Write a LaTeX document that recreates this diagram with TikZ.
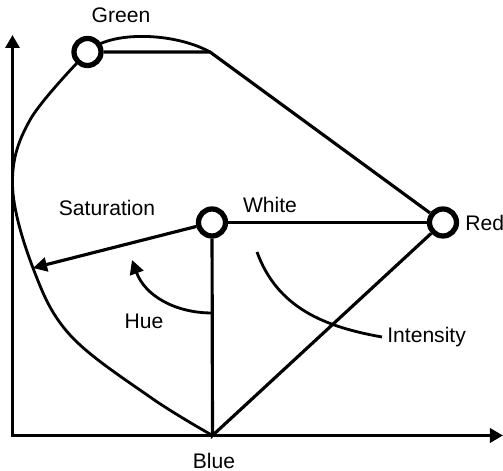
\documentclass[tikz,border=0pt]{standalone}
\usepackage{fontspec}
\setmainfont{Liberation Sans}
\usetikzlibrary{arrows.meta}
\begin{document}
\begin{tikzpicture}[
    lbl/.style={font=\fontsize{12}{14}\selectfont, inner sep=0pt},
    dot/.style={circle, draw, line width=3pt, fill=white, minimum size=0.54cm, inner sep=0pt},
    edge/.style={line width=1.8pt},
    rim/.style={line width=1.6pt},
    tip/.style={-{Triangle[length=0.28cm,width=0.28cm]}}
]
\useasboundingbox (0,0) rectangle (10.06,9.42);
% Axes
\coordinate (yend) at (0.25,8.72); \coordinate (xend) at (10.06,0.71);
\draw[line width=1.9pt, {Triangle[length=0.26cm,width=0.28cm]}-{Triangle[length=0.26cm,width=0.28cm]}]
    (yend) |- (xend);

% Outline of the colour solid
\coordinate (g) at (1.75,8.38); \coordinate (J) at (4.20,8.38);
\coordinate (B) at (4.25,0.71); \coordinate (S) at (0.66,4.06);
\draw[rim] (g) .. controls (2.2,8.82) and (3.5,8.77) .. (J);
\draw[rim] plot[smooth, tension=0.6] coordinates {(1.75,8.38) (0.60,7.02)
    (0.25,5.72) (0.66,4.06) (1.40,2.72) (3.00,1.48) (4.25,0.71)};

% Primaries and white point
\node[dot] (G) at (g) {};
\node[dot] (W) at (4.24,4.97) {};
\node[dot] (R) at (8.86,4.97) {};

\node[lbl] (green) at (2.42,9.12) {Green};
\node[lbl] (white) at (5.40,5.32) {White};
\node[lbl, anchor=west] (red) at (9.30,4.97) {Red};
\node[lbl] (blue) at (4.28,0.20) {Blue};
\node[lbl] (sat) at (2.14,5.26) {Saturation};
\node[lbl] (hue) at (2.88,3.00) {Hue};
\node[lbl, anchor=west] (int) at (7.74,2.68) {Intensity};

\draw[edge] (G) -- (J) -- (R);
\draw[edge] (W) -- (R);
\draw[edge] (W) -- (B) -- (R);
\draw[edge, tip] (W) -- (S);

% Hue and intensity arcs
\coordinate (h1) at (4.24,3.16); \coordinate (h2) at (2.64,4.22);
\draw[rim, tip] (h1) to[out=180, in=-70] (h2);
\coordinate (i1) at (5.14,4.38); \coordinate (i2) at (7.64,2.68);
\draw[rim] (i1) to[out=-70, in=170] (i2);
\end{tikzpicture}
\end{document}
